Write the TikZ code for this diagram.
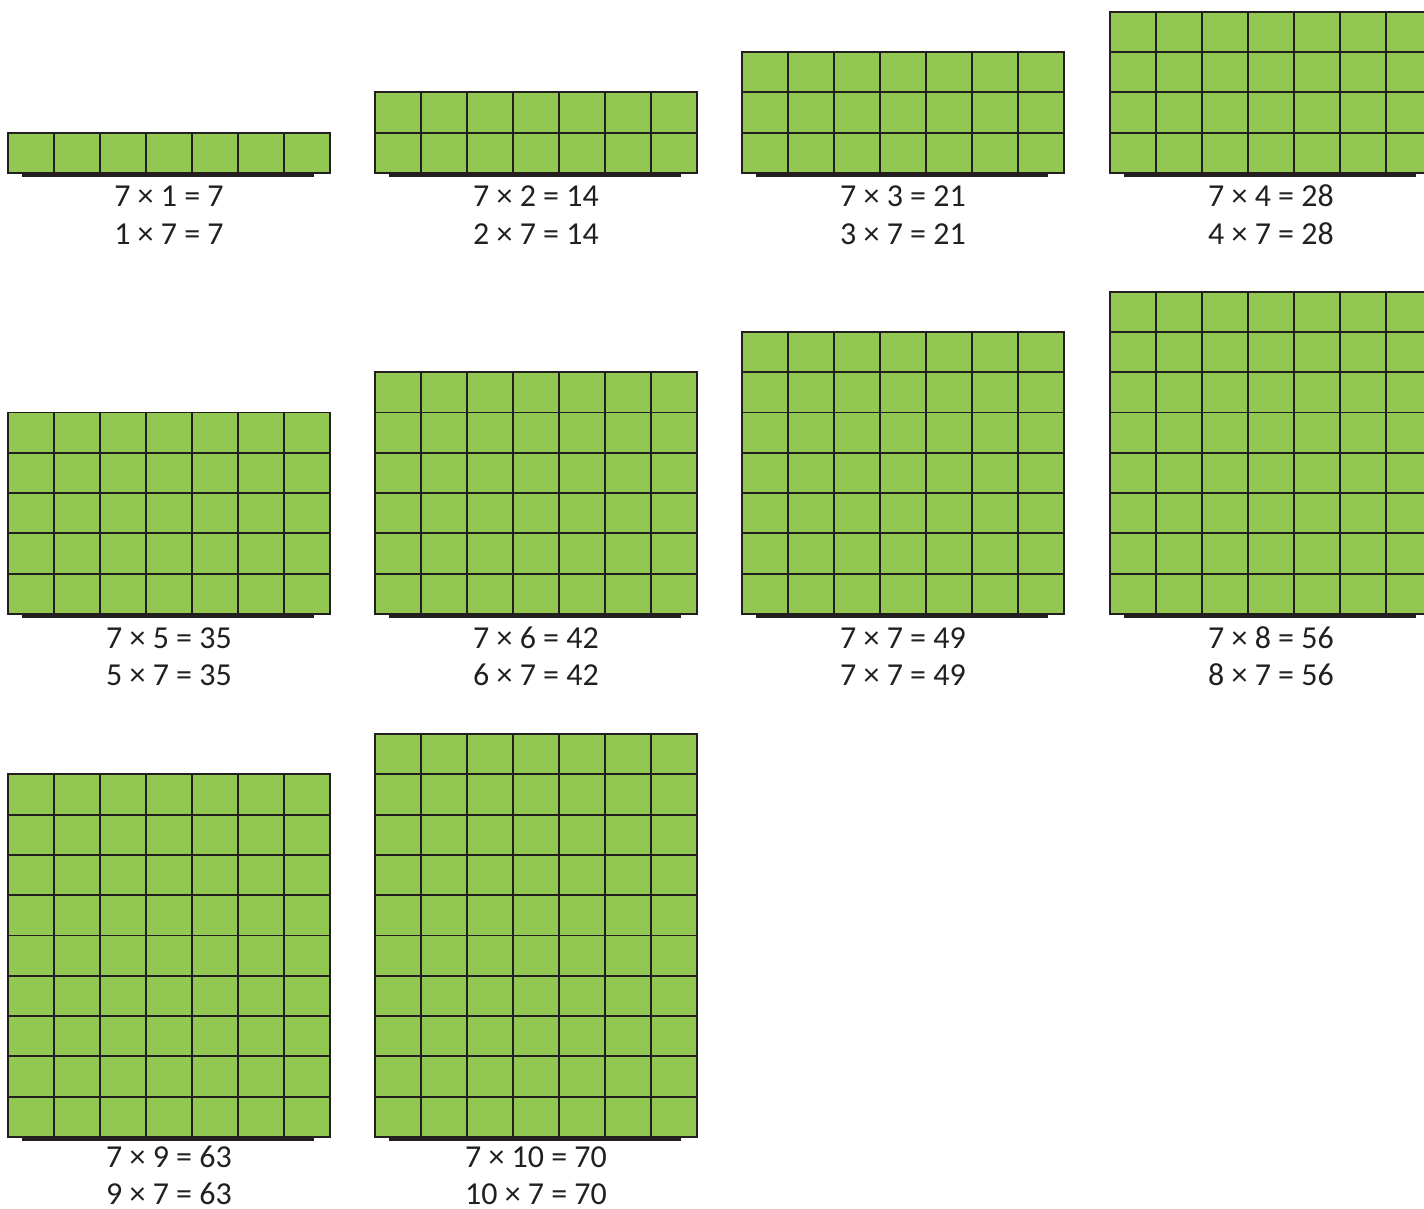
\documentclass[tikz,border=0pt]{standalone}
\usepackage{fontspec}
\setmainfont{Carlito}
\usetikzlibrary{positioning}
\definecolor{leaf}{RGB}{146,200,82}
\definecolor{ink}{RGB}{35,31,32}

\begin{document}
\begin{tikzpicture}[x=0.02cm, y=-0.02cm,
  cell/.style={draw=ink, line width=1.1pt, line cap=rect},
  rim/.style={draw=ink, line width=1.8pt},
  lab/.style={font=\fontsize{18.2}{22}\selectfont, text=ink, anchor=base, inner sep=0pt}]
  \useasboundingbox (0,0) rectangle (1424,1209);
  \clip (0,0) rectangle (1424,1209);
  % one panel per table row: n / left edge / bottom edge / text baseline
  \foreach \n/\x/\b/\s in {1/8/173/207, 2/375/173/207, 3/742/173/207, 4/1110/173/207,
                           5/8/614/648, 6/375/614/648, 7/742/614/648, 8/1110/614/648,
                           9/8/1137/1167, 10/375/1137/1167} {
    \pgfmathsetmacro{\t}{\b-40.3*\n}
    \pgfmathtruncatemacro{\p}{7*\n}
    \draw[rim] (\x+14,\b+2) -- (\x+306,\b+2);
    \fill[leaf] (\x,\t) rectangle (\x+322,\b);
    \foreach \c in {0,...,7}
      \draw[cell] (\x+46*\c,\t) -- (\x+46*\c,\b);
    \foreach \r in {0,...,\n}
      \draw[cell] (\x,\b-40.3*\r) -- (\x+322,\b-40.3*\r);
    \node[lab] (top\n) at (\x+161,\s) {7 × \n\ = \p};
    \node[lab] (bot\n) at (\x+161,\s+37.5) {\n\ × 7 = \p};
  }
\end{tikzpicture}
\end{document}
